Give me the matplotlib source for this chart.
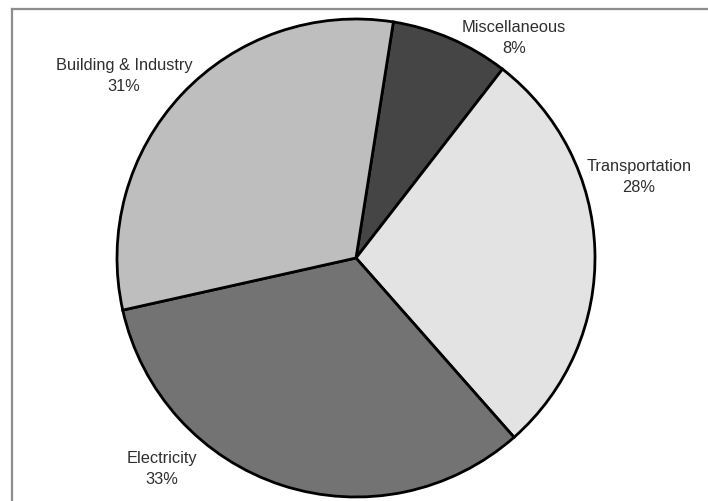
import matplotlib.pyplot as plt

# Share of emissions by sector
sectors = ['Miscellaneous', 'Transportation', 'Electricity', 'Building & Industry']
shares = [8, 28, 33, 31]
shades = ['#454545', '#e3e3e3', '#737373', '#bebebe']

# label anchor points (pixels, measured from top-left)
label_xy = [(514, 38), (639, 177), (162, 469), (124, 76)]

W, H = 708, 501
fig = plt.figure(figsize=(W / 100, H / 100), dpi=100)
ax = fig.add_axes([0, 0, 1, 1])
ax.set_xlim(0, W)
ax.set_ylim(0, H)

ax.pie(shares, colors=shades, startangle=81, counterclock=False,
       center=(356, H - 258), radius=239, frame=True,
       wedgeprops=dict(edgecolor='black', linewidth=2.0))

for name, pct, (x, y) in zip(sectors, shares, label_xy):
    ax.text(x, H - y, f'{name}\n{pct}%', ha='center', va='center',
            fontsize=11.8, family='Liberation Sans', color='#2e2e2e',
            linespacing=1.45)

# thin grey frame along top and left
ax.plot([11.5, W], [H - 8.5, H - 8.5], color='#8c8c8c', lw=1.6, clip_on=False)
ax.plot([11.5, 11.5], [0, H - 8.5], color='#8c8c8c', lw=1.6, clip_on=False)

ax.set_xlim(0, W)
ax.set_ylim(0, H)
ax.axis('off')
fig.savefig('out.png', dpi=100)
